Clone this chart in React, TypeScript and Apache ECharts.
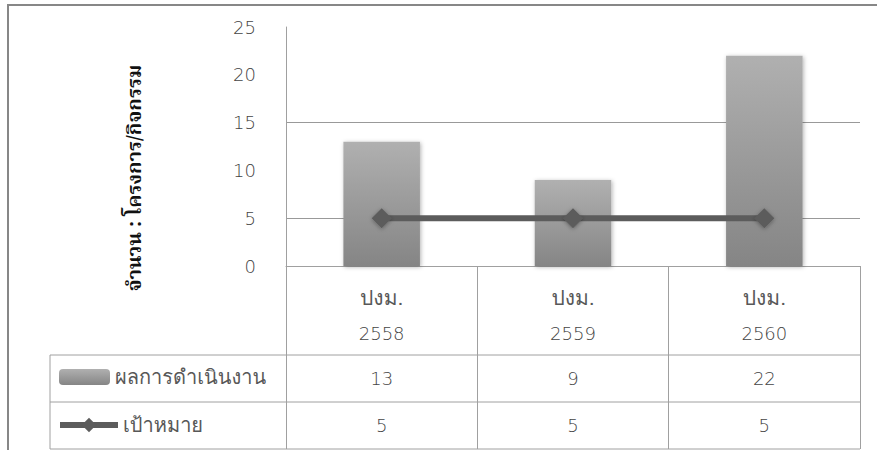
import React, { useEffect, useRef } from "react";
import * as echarts from "echarts";

// Fiscal years shown along the category axis
const categories = ["ปงม.\n2558", "ปงม.\n2559", "ปงม.\n2560"];
// Number of projects / activities carried out
const actualValues = [13, 9, 22];
// Target number per year
const targetValues = [5, 5, 5];
// Value-axis range and step
const yMin = 0;
const yMax = 25;
const yStep = 5;
// Reference lines drawn across the plot
const gridValues = [5, 15];

const seriesActual = "ผลการดำเนินงาน";
const seriesTarget = "เป้าหมาย";
const yTitle = "จำนวน : โครงการ/กิจกรรม";

const FONT = "'DejaVu Sans', Tahoma, 'Noto Sans', sans-serif";
const THAI_FONT =
  "Loma, Tahoma, Waree, Garuda, 'Noto Sans Thai', 'DejaVu Sans', sans-serif";
const DIGIT_WEIGHT = 200;
const TEXT = "#444";
const THAI_TEXT = "#585858";
const TABLE_LINE = "#a0a0a0";
const LINE_COLOR = "#5c5c5c";

export default function App() {
  const ref = useRef<HTMLDivElement>(null);

  useEffect(() => {
    if (!ref.current) return;
    const chart = echarts.init(ref.current, null, { renderer: "svg" });

    const barGradient = new echarts.graphic.LinearGradient(0, 0, 0, 1, [
      { offset: 0, color: "#b0b0b0" },
      { offset: 1, color: "#858585" },
    ]);

    const tableLabel = {
      interval: 0,
      fontSize: 18,
      fontWeight: DIGIT_WEIGHT,
      lineHeight: 20,
      color: TEXT,
      fontFamily: FONT,
      margin: 0,
    };

    const legendText = {
      fontSize: 20,
      fontWeight: 300,
      color: THAI_TEXT,
      fontFamily: THAI_FONT,
    };

    chart.setOption({
      animation: false,
      backgroundColor: "#ffffff",
      grid: {
        left: 286,
        top: 27,
        right: 17,
        bottom: 184,
        containLabel: false,
      },
      legend: [
        {
          data: [seriesActual],
          orient: "vertical",
          left: 59,
          top: 367,
          padding: 0,
          itemWidth: 51,
          itemHeight: 16,
          textStyle: legendText,
          selectedMode: false,
        },
        {
          data: [
            {
              name: seriesTarget,
              itemStyle: { color: LINE_COLOR },
            },
          ],
          orient: "vertical",
          left: 57,
          top: 415,
          padding: 0,
          itemWidth: 58,
          itemHeight: 18,
          lineStyle: { width: 6, color: LINE_COLOR },
          textStyle: legendText,
          selectedMode: false,
        },
      ],
      xAxis: [
        {
          type: "category",
          data: categories,
          position: "bottom",
          axisLine: { show: true, lineStyle: { color: TABLE_LINE, width: 1 } },
          axisTick: {
            show: true,
            length: 183,
            interval: 0,
            lineStyle: { color: TABLE_LINE, width: 1 },
          },
          axisLabel: {
            interval: 0,
            margin: 13,
            formatter: (value: string) => {
              const [prefix, year] = value.split("\n");
              return `{t|${prefix}}\n{n|${year}}`;
            },
            rich: {
              t: {
                fontSize: 21,
                fontWeight: 300,
                lineHeight: 36,
                color: THAI_TEXT,
                fontFamily: THAI_FONT,
              },
              n: {
                fontSize: 18,
                fontWeight: DIGIT_WEIGHT,
                lineHeight: 36,
                color: TEXT,
                fontFamily: FONT,
              },
            },
          },
        },
        {
          type: "category",
          data: actualValues.map(String),
          position: "bottom",
          offset: 102,
          axisLine: { show: false },
          axisTick: { show: false },
          axisLabel: tableLabel,
        },
        {
          type: "category",
          data: targetValues.map(String),
          position: "bottom",
          offset: 149,
          axisLine: { show: false },
          axisTick: { show: false },
          axisLabel: tableLabel,
        },
      ],
      yAxis: {
        type: "value",
        min: yMin,
        max: yMax,
        interval: yStep,
        axisLine: { show: true, lineStyle: { color: TABLE_LINE, width: 1 } },
        axisTick: { show: false },
        splitLine: { show: false },
        axisLabel: {
          fontSize: 18,
          fontWeight: DIGIT_WEIGHT,
          color: TEXT,
          fontFamily: FONT,
          margin: 30,
          padding: [5, 0, 0, 0],
        },
      },
      graphic: [
        // outer frame
        {
          type: "rect",
          shape: { x: 8, y: 5, width: 1000, height: 600 },
          style: { fill: "none", stroke: "#878787", lineWidth: 2 },
          silent: true,
        },
        // axis title
        {
          type: "text",
          x: 136,
          y: 178,
          rotation: Math.PI / 2,
          style: {
            text: yTitle,
            fontSize: 20,
            fontWeight: "bold",
            fontFamily: "'Noto Serif Thai', 'DejaVu Serif', serif",
            fill: "#111",
            align: "center",
            verticalAlign: "middle",
          },
        },
        // data-table rules
        ...[355, 402, 449].map((y) => ({
          type: "line",
          shape: { x1: 50, y1: y, x2: 860, y2: y },
          style: { stroke: TABLE_LINE, lineWidth: 1 },
          silent: true,
        })),
        {
          type: "line",
          shape: { x1: 50, y1: 355, x2: 50, y2: 449 },
          style: { stroke: TABLE_LINE, lineWidth: 1 },
          silent: true,
        },
      ],
      series: [
        {
          name: seriesActual,
          type: "bar",
          data: actualValues,
          barWidth: "40%",
          itemStyle: {
            color: barGradient,
            shadowBlur: 4,
            shadowColor: "rgba(0,0,0,0.3)",
            shadowOffsetX: 1,
            shadowOffsetY: 1,
          },
          markLine: {
            silent: true,
            symbol: "none",
            label: { show: false },
            lineStyle: { color: "#999", width: 1, type: "solid" },
            data: gridValues.map((v) => ({ yAxis: v })),
            z: 0,
          },
          z: 2,
        },
        {
          name: seriesTarget,
          type: "line",
          data: targetValues,
          symbol: "diamond",
          symbolSize: 20,
          lineStyle: {
            color: LINE_COLOR,
            width: 6,
          },
          itemStyle: {
            color: LINE_COLOR,
            shadowBlur: 4,
            shadowColor: "rgba(0,0,0,0.35)",
            shadowOffsetY: 1,
          },
          z: 3,
        },
      ],
    });

    return () => chart.dispose();
  }, []);

  return (
    <div
      style={{
        position: "fixed",
        left: 0,
        top: 0,
        width: 877,
        height: 450,
        background: "#fff",
      }}
    >
      <div ref={ref} style={{ width: 877, height: 450 }} />
    </div>
  );
}
